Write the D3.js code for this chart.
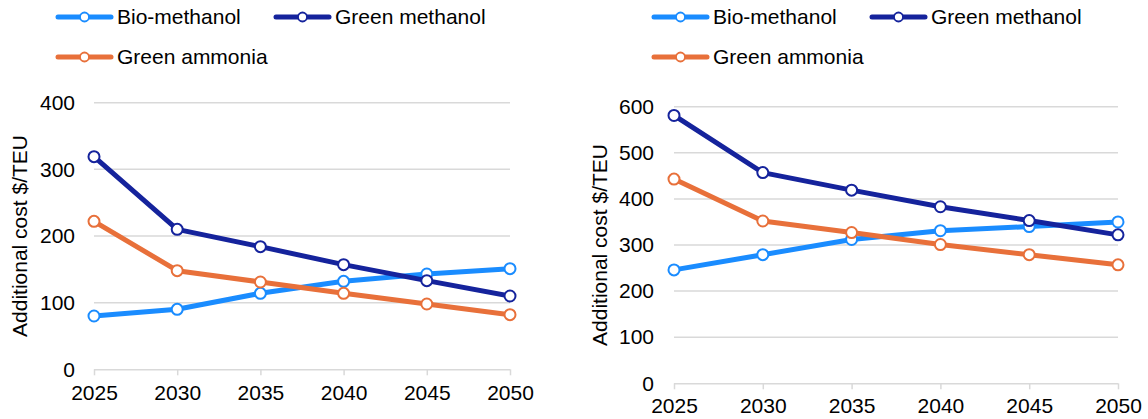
<!DOCTYPE html>
<html>
<head>
<meta charset="utf-8">
<script src="https://cdn.jsdelivr.net/npm/d3@7"></script>
<style>
  html, body { margin: 0; padding: 0; background: #fff; }
  svg { display: block; }
  text { font-family: "Liberation Sans", Arial, sans-serif; fill: #000; }
</style>
</head>
<body>
<svg id="chart" width="1148" height="419"></svg>
<script>
// ---------- data ----------
const years = ["2025", "2030", "2035", "2040", "2045", "2050"];
const seriesNames = ["Bio-methanol", "Green methanol", "Green ammonia"];

// left panel
const bioMethanolLeft   = [80, 90, 114, 132, 143, 151];
const greenMethanolLeft = [319, 210, 184, 157, 133, 110];
const greenAmmoniaLeft  = [222, 148, 131, 114, 98, 82];
const yTicksLeft = [0, 100, 200, 300, 400];

// right panel
const bioMethanolRight   = [246, 279, 312, 331, 340, 350];
const greenMethanolRight = [581, 457, 419, 383, 353, 322];
const greenAmmoniaRight  = [443, 352, 327, 301, 279, 257];
const yTicksRight = [0, 100, 200, 300, 400, 500, 600];

const yTitle = "Additional cost $/TEU";

// ---------- style ----------
const colors = ["#1a8cff", "#15239c", "#e8703a"];
const gridColor = "#d9d9d9";
const fontSize = 21;

const svg = d3.select("#chart");

function drawPanel(cfg) {
  const g = svg.append("g");
  const x = d3.scalePoint().domain(years).range([cfg.x0, cfg.x1]);
  const y = d3.scaleLinear().domain([0, d3.max(cfg.ticks)]).range([cfg.yBottom, cfg.yTop]);

  // gridlines (excluding zero)
  g.append("g").selectAll("line").data(cfg.ticks.filter(t => t > 0)).join("line")
    .attr("x1", cfg.x0).attr("x2", cfg.x1)
    .attr("y1", d => y(d)).attr("y2", d => y(d))
    .attr("stroke", gridColor).attr("stroke-width", 1.5);

  // x axis line + ticks
  const xAxis = d3.axisBottom(x).tickSize(6);
  const xa = g.append("g").attr("transform", `translate(0,${y(0)})`).call(xAxis);
  xa.select(".domain").attr("stroke", gridColor).attr("stroke-width", 1.5)
    .attr("d", `M${cfg.x0},0.5H${cfg.x1}`);
  xa.selectAll(".tick line").attr("stroke", gridColor).attr("stroke-width", 1.5);
  xa.selectAll(".tick text").attr("font-size", fontSize).attr("font-family", "Liberation Sans, Arial, sans-serif")
    .attr("fill", "#000").attr("y", cfg.xLabelOffset).attr("dy", 0);

  // y axis labels
  const yAxis = d3.axisLeft(y).tickValues(cfg.ticks).tickSize(0).tickPadding(cfg.x0 - cfg.labelRight);
  const ya = g.append("g").attr("transform", `translate(${cfg.x0},0)`).call(yAxis);
  ya.select(".domain").remove();
  ya.selectAll(".tick text").attr("font-size", fontSize).attr("font-family", "Liberation Sans, Arial, sans-serif")
    .attr("fill", "#000");

  // y title
  g.append("text")
    .attr("transform", `translate(${cfg.titleX},${(cfg.yTop + cfg.yBottom) / 2}) rotate(-90)`)
    .attr("text-anchor", "middle").attr("dy", "0.35em")
    .attr("font-size", fontSize)
    .text(yTitle);

  // series
  const line = d3.line().x((d, i) => x(years[i])).y(d => y(d));
  cfg.series.forEach((vals, si) => {
    const sg = g.append("g");
    sg.append("path").datum(vals).attr("d", line)
      .attr("fill", "none").attr("stroke", colors[si]).attr("stroke-width", 5)
      .attr("stroke-linejoin", "round");
    sg.selectAll("circle").data(vals).join("circle")
      .attr("cx", (d, i) => x(years[i])).attr("cy", d => y(d)).attr("r", 5.5)
      .attr("fill", "#fff").attr("stroke", colors[si]).attr("stroke-width", 2);
  });

  // legend
  const legendItems = [
    { name: seriesNames[0], c: colors[0], lx: cfg.legX, ly: 17 },
    { name: seriesNames[1], c: colors[1], lx: cfg.legX2, ly: 17 },
    { name: seriesNames[2], c: colors[2], lx: cfg.legX, ly: 57 }
  ];
  const lg = g.append("g");
  legendItems.forEach(it => {
    lg.append("line").attr("x1", it.lx).attr("x2", it.lx + 53)
      .attr("y1", it.ly).attr("y2", it.ly)
      .attr("stroke", it.c).attr("stroke-width", 5).attr("stroke-linecap", "round");
    lg.append("circle").attr("cx", it.lx + 26.5).attr("cy", it.ly).attr("r", 4.5)
      .attr("fill", "#fff").attr("stroke", it.c).attr("stroke-width", 1.8);
    lg.append("text").attr("x", it.lx + 59).attr("y", it.ly).attr("dy", "0.35em")
      .attr("font-size", fontSize).text(it.name);
  });
}

drawPanel({
  x0: 94, x1: 510, yTop: 102.7, yBottom: 369.3, labelRight: 75, titleX: 20, xLabelOffset: 31,
  ticks: yTicksLeft,
  series: [bioMethanolLeft, greenMethanolLeft, greenAmmoniaLeft],
  legX: 58, legX2: 276
});

drawPanel({
  x0: 674, x1: 1118, yTop: 106.7, yBottom: 383.3, labelRight: 654, titleX: 600, xLabelOffset: 30,
  ticks: yTicksRight,
  series: [bioMethanolRight, greenMethanolRight, greenAmmoniaRight],
  legX: 654, legX2: 872
});
</script>
</body>
</html>
